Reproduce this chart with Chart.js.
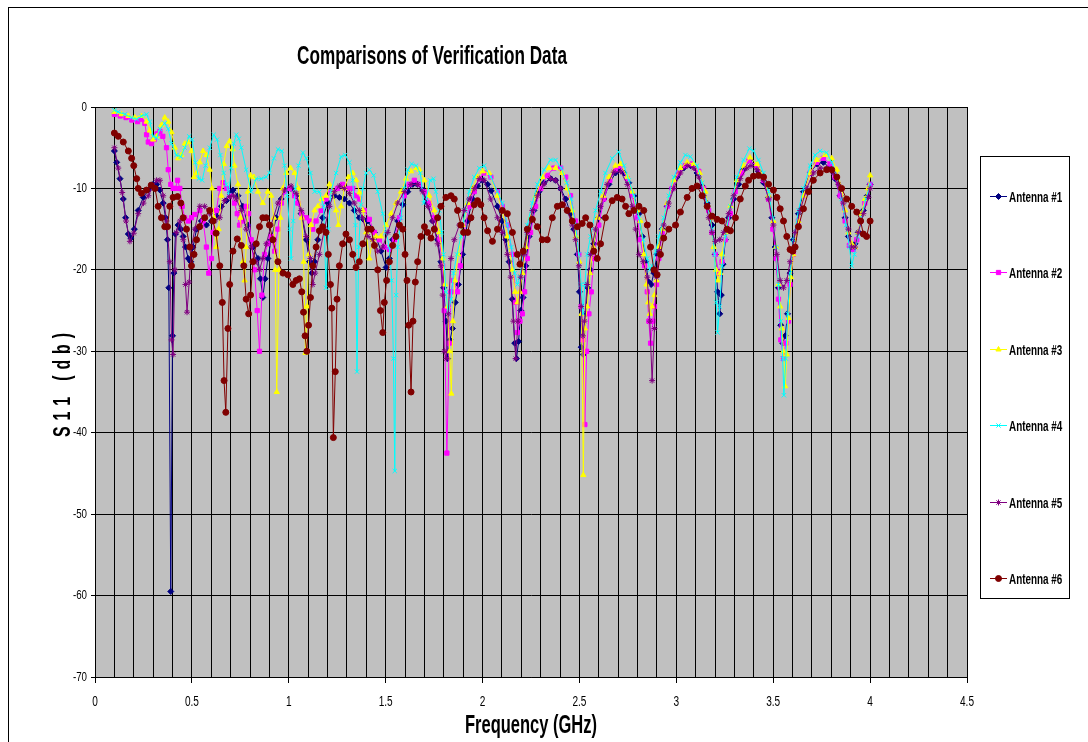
<!DOCTYPE html>
<html>
<head>
<meta charset="utf-8">
<title>Comparisons of Verification Data</title>
<script src="https://cdn.jsdelivr.net/npm/chart.js"></script>
<style>
    html, body { margin: 0; padding: 0; background: #fff; }
    #wrap { width: 1088px; height: 742px; }
</style>
</head>
<body>
<div id="wrap"><canvas id="chart" width="1088" height="742"></canvas></div>
<script>
// S11 readings [GHz, dB]
const ant1 = [
    [0.100, -5.4], [0.112, -6.8], [0.129, -8.8], [0.146, -11.3], [0.158, -13.6], [0.172, -15.6], [0.185, -16.1],
    [0.203, -15.0], [0.223, -12.7], [0.249, -11.1], [0.275, -10.2], [0.300, -9.5], [0.318, -9.5], [0.335, -10.2],
    [0.352, -11.8], [0.364, -13.6], [0.374, -16.3], [0.381, -22.2], [0.391, -59.5], [0.400, -28.1], [0.407, -20.4],
    [0.415, -15.6], [0.429, -14.5], [0.443, -15.0], [0.455, -15.9], [0.467, -17.2], [0.481, -18.6], [0.494, -19.0],
    [0.506, -17.2], [0.524, -15.0], [0.549, -14.0], [0.575, -14.5], [0.601, -14.0], [0.626, -13.4], [0.652, -12.2],
    [0.678, -11.5], [0.700, -10.5], [0.712, -10.2], [0.738, -10.9], [0.763, -12.2], [0.789, -14.5], [0.815, -17.2],
    [0.841, -18.6], [0.854, -21.1], [0.866, -23.4], [0.878, -21.1], [0.892, -18.6], [0.909, -16.3], [0.935, -13.6],
    [0.961, -11.3], [0.987, -10.2], [1.012, -10.0], [1.038, -10.9], [1.064, -13.1], [1.090, -16.3], [1.107, -19.0],
    [1.119, -20.4], [1.133, -19.0], [1.150, -16.3], [1.175, -13.6], [1.201, -11.8], [1.235, -10.9], [1.261, -11.1],
    [1.287, -11.3], [1.313, -11.8], [1.338, -12.7], [1.364, -13.6], [1.385, -13.8], [1.408, -14.0], [1.442, -15.4],
    [1.476, -17.7], [1.502, -19.7], [1.519, -18.6], [1.536, -16.3], [1.562, -14.0], [1.588, -12.0], [1.614, -10.4],
    [1.640, -9.5], [1.665, -9.5], [1.691, -10.2], [1.717, -11.8], [1.742, -14.0], [1.768, -16.3], [1.785, -19.0],
    [1.799, -22.2], [1.811, -26.3], [1.820, -30.9], [1.832, -28.6], [1.845, -27.2], [1.859, -24.0], [1.875, -21.8],
    [1.897, -18.1], [1.923, -14.0], [1.948, -11.3], [1.974, -9.7], [2.000, -9.0], [2.026, -9.5], [2.045, -10.3],
    [2.077, -12.2], [2.102, -14.0], [2.120, -16.3], [2.137, -19.0], [2.154, -23.6], [2.166, -29.0], [2.175, -30.9],
    [2.186, -28.8], [2.197, -25.0], [2.209, -23.4], [2.223, -19.5], [2.240, -15.9], [2.265, -12.7], [2.291, -10.4],
    [2.317, -9.3], [2.351, -8.8], [2.377, -9.0], [2.403, -10.0], [2.429, -11.3], [2.454, -13.1], [2.471, -15.0],
    [2.489, -18.1], [2.500, -22.7], [2.509, -29.5], [2.520, -30.4], [2.532, -25.4], [2.543, -22.2], [2.557, -20.0],
    [2.574, -16.8], [2.600, -13.6], [2.626, -11.3], [2.652, -9.5], [2.686, -8.1], [2.704, -7.5], [2.730, -8.1],
    [2.755, -9.3], [2.781, -10.9], [2.807, -13.1], [2.824, -15.9], [2.841, -19.0], [2.858, -21.5], [2.870, -21.8],
    [2.884, -20.4], [2.901, -18.1], [2.927, -15.0], [2.953, -12.2], [2.978, -10.0], [3.004, -8.6], [3.038, -7.5],
    [3.073, -7.2], [3.107, -8.1], [3.133, -9.7], [3.159, -11.8], [3.184, -14.5], [3.201, -18.1], [3.213, -22.7],
    [3.224, -25.4], [3.232, -23.1], [3.241, -19.3], [3.253, -16.3], [3.270, -13.6], [3.296, -11.3], [3.322, -9.5],
    [3.347, -7.7], [3.380, -6.5], [3.424, -7.9], [3.450, -9.3], [3.476, -11.1], [3.493, -13.6], [3.510, -17.2],
    [3.527, -22.2], [3.539, -26.8], [3.549, -29.0], [3.562, -28.1], [3.574, -25.4], [3.587, -20.4], [3.604, -16.3],
    [3.630, -13.1], [3.656, -10.4], [3.690, -8.1], [3.725, -7.0], [3.759, -6.8], [3.793, -7.5], [3.819, -8.8],
    [3.845, -10.9], [3.871, -13.6], [3.888, -15.9], [3.905, -17.2], [3.922, -16.8], [3.939, -15.4], [3.965, -12.7],
    [3.985, -10.9], [4.000, -9.5]
];

const ant2 = [
    [0.100, -0.9], [0.130, -1.1], [0.160, -1.3], [0.190, -1.6], [0.220, -1.8], [0.240, -1.5], [0.257, -2.0],
    [0.266, -3.4], [0.275, -4.3], [0.292, -4.5], [0.305, -4.0], [0.320, -3.3], [0.335, -3.0], [0.350, -3.6],
    [0.369, -5.0], [0.378, -7.7], [0.391, -9.5], [0.403, -10.0], [0.415, -10.0], [0.426, -9.0], [0.438, -10.0],
    [0.450, -12.2], [0.463, -13.6], [0.481, -14.0], [0.498, -13.6], [0.515, -13.2], [0.541, -12.7], [0.558, -14.0],
    [0.575, -17.2], [0.587, -20.4], [0.601, -18.6], [0.609, -15.4], [0.626, -12.7], [0.644, -10.0], [0.661, -9.3],
    [0.678, -10.0], [0.695, -10.9], [0.720, -11.8], [0.734, -13.1], [0.746, -14.5], [0.763, -14.0], [0.780, -12.2],
    [0.793, -13.1], [0.806, -16.3], [0.823, -20.0], [0.837, -25.0], [0.849, -30.0], [0.861, -23.1], [0.875, -18.1],
    [0.892, -16.8], [0.909, -15.9], [0.927, -17.7], [0.944, -15.0], [0.961, -11.8], [0.978, -10.4], [1.004, -10.0],
    [1.030, -10.9], [1.047, -11.8], [1.067, -13.1], [1.090, -13.6], [1.107, -14.0], [1.124, -15.0], [1.141, -14.0],
    [1.167, -12.7], [1.192, -11.3], [1.218, -10.4], [1.252, -10.0], [1.278, -9.5], [1.304, -10.0], [1.330, -10.0],
    [1.347, -10.9], [1.365, -11.3], [1.390, -12.7], [1.416, -13.8], [1.442, -15.4], [1.468, -16.3], [1.493, -17.2],
    [1.519, -17.5], [1.545, -16.3], [1.571, -13.6], [1.596, -10.9], [1.622, -9.5], [1.648, -9.0], [1.674, -9.5],
    [1.700, -10.4], [1.725, -11.8], [1.751, -13.6], [1.777, -16.3], [1.794, -19.5], [1.802, -25.0], [1.816, -42.5],
    [1.828, -29.0], [1.837, -22.7], [1.850, -21.3], [1.871, -22.7], [1.885, -19.5], [1.905, -15.4], [1.931, -12.2],
    [1.957, -10.4], [1.983, -8.8], [2.008, -8.1], [2.043, -8.6], [2.077, -10.4], [2.102, -12.2], [2.128, -14.5],
    [2.154, -18.1], [2.171, -24.0], [2.180, -27.7], [2.193, -26.3], [2.205, -25.4], [2.217, -22.7], [2.231, -18.6],
    [2.248, -15.4], [2.274, -12.2], [2.300, -10.0], [2.334, -8.4], [2.368, -7.5], [2.403, -7.5], [2.429, -8.6],
    [2.454, -10.9], [2.480, -14.0], [2.497, -18.1], [2.509, -24.5], [2.518, -28.6], [2.528, -39.0], [2.537, -30.0],
    [2.549, -25.4], [2.561, -22.7], [2.574, -18.6], [2.600, -14.5], [2.626, -11.3], [2.657, -9.0], [2.686, -7.7],
    [2.712, -7.3], [2.747, -8.8], [2.772, -10.9], [2.798, -13.6], [2.815, -16.3], [2.836, -19.5], [2.850, -22.7],
    [2.858, -26.3], [2.867, -29.0], [2.879, -26.3], [2.887, -24.5], [2.898, -21.8], [2.910, -18.6], [2.927, -15.4],
    [2.953, -12.2], [2.978, -10.0], [3.013, -8.1], [3.047, -7.2], [3.081, -7.0], [3.116, -7.9], [3.141, -10.0],
    [3.167, -12.7], [3.184, -15.4], [3.201, -18.1], [3.219, -20.4], [3.236, -19.0], [3.253, -16.3], [3.279, -13.1],
    [3.304, -10.4], [3.338, -8.1], [3.375, -6.6], [3.416, -7.2], [3.450, -9.0], [3.476, -11.3], [3.498, -15.0],
    [3.515, -18.6], [3.527, -23.6], [3.539, -28.6], [3.553, -30.9], [3.565, -29.0], [3.579, -26.3], [3.587, -21.8],
    [3.604, -18.1], [3.630, -14.0], [3.656, -10.9], [3.690, -8.1], [3.725, -6.8], [3.759, -6.3], [3.793, -7.0],
    [3.819, -8.6], [3.845, -10.9], [3.871, -14.0], [3.893, -17.0], [3.913, -17.5], [3.931, -16.3], [3.951, -14.0],
    [3.973, -11.8], [4.000, -9.5]
];

const ant3 = [
    [0.100, -0.6], [0.137, -0.9], [0.172, -1.1], [0.206, -1.3], [0.240, -1.1], [0.266, -1.8], [0.283, -2.9],
    [0.300, -4.0], [0.318, -3.6], [0.343, -2.2], [0.360, -1.3], [0.378, -1.8], [0.395, -3.1], [0.412, -5.0],
    [0.429, -6.3], [0.446, -5.9], [0.463, -4.5], [0.481, -4.3], [0.498, -5.4], [0.511, -8.6], [0.524, -8.1],
    [0.541, -6.8], [0.558, -5.4], [0.575, -5.9], [0.592, -7.7], [0.604, -10.0], [0.614, -13.6], [0.626, -17.2],
    [0.638, -15.0], [0.652, -10.9], [0.665, -7.0], [0.680, -4.8], [0.695, -4.2], [0.710, -5.2], [0.720, -7.2],
    [0.738, -9.5], [0.751, -13.6], [0.763, -19.0], [0.772, -21.3], [0.780, -17.2], [0.789, -10.4], [0.803, -8.4],
    [0.820, -8.6], [0.841, -10.4], [0.866, -11.8], [0.892, -10.4], [0.909, -10.9], [0.923, -13.6], [0.930, -20.0],
    [0.938, -35.0], [0.949, -20.0], [0.957, -13.6], [0.969, -10.0], [0.987, -8.1], [1.009, -7.5], [1.030, -8.1],
    [1.050, -10.0], [1.067, -13.6], [1.077, -19.0], [1.086, -30.2], [1.095, -24.5], [1.103, -18.1], [1.115, -14.5],
    [1.133, -12.7], [1.150, -12.2], [1.170, -11.3], [1.192, -10.9], [1.210, -9.5], [1.227, -10.4], [1.244, -12.7],
    [1.256, -14.5], [1.270, -12.2], [1.287, -10.0], [1.308, -8.6], [1.330, -8.1], [1.348, -9.0], [1.365, -10.5],
    [1.382, -12.7], [1.399, -15.4], [1.416, -18.6], [1.433, -16.3], [1.450, -15.9], [1.476, -15.9], [1.502, -14.5],
    [1.528, -13.1], [1.553, -11.8], [1.579, -10.4], [1.605, -8.8], [1.631, -7.9], [1.657, -7.5], [1.674, -7.7],
    [1.700, -9.0], [1.725, -10.9], [1.751, -12.7], [1.777, -15.4], [1.794, -18.6], [1.806, -21.8], [1.820, -24.5],
    [1.830, -30.0], [1.839, -35.2], [1.847, -26.3], [1.857, -21.3], [1.875, -18.1], [1.897, -14.5], [1.923, -11.8],
    [1.948, -10.0], [1.974, -8.6], [2.000, -7.9], [2.034, -8.1], [2.077, -10.9], [2.102, -12.7], [2.128, -15.9],
    [2.154, -20.0], [2.168, -22.7], [2.180, -24.0], [2.192, -22.7], [2.205, -20.4], [2.223, -17.2], [2.248, -13.6],
    [2.274, -10.9], [2.308, -8.6], [2.343, -7.5], [2.377, -7.5], [2.411, -8.1], [2.437, -10.0], [2.463, -12.7],
    [2.483, -15.9], [2.500, -19.0], [2.511, -25.4], [2.520, -45.2], [2.528, -27.2], [2.540, -24.5], [2.554, -20.4],
    [2.571, -17.2], [2.595, -13.6], [2.622, -10.9], [2.652, -8.6], [2.686, -7.2], [2.712, -7.0], [2.747, -8.6],
    [2.772, -10.4], [2.798, -12.7], [2.815, -14.0], [2.832, -18.1], [2.846, -21.8], [2.855, -24.0], [2.863, -25.4],
    [2.875, -24.5], [2.887, -23.1], [2.898, -21.3], [2.910, -17.2], [2.927, -15.0], [2.953, -11.8], [2.987, -9.0],
    [3.021, -7.5], [3.056, -6.8], [3.090, -7.0], [3.121, -8.1], [3.150, -10.4], [3.176, -13.6], [3.193, -17.2],
    [3.205, -20.0], [3.215, -21.3], [3.227, -20.4], [3.236, -18.1], [3.253, -15.4], [3.279, -12.2], [3.313, -9.0],
    [3.347, -7.2], [3.380, -6.2], [3.416, -7.0], [3.450, -8.6], [3.476, -10.9], [3.501, -14.0], [3.515, -17.2],
    [3.527, -21.8], [3.536, -24.5], [3.544, -27.2], [3.553, -30.0], [3.562, -34.3], [3.570, -30.4], [3.579, -25.9],
    [3.591, -20.9], [3.604, -18.1], [3.630, -14.0], [3.656, -10.9], [3.690, -8.1], [3.725, -6.5], [3.768, -5.9],
    [3.802, -6.3], [3.828, -7.7], [3.853, -10.0], [3.871, -12.7], [3.888, -15.4], [3.905, -16.8], [3.922, -17.2],
    [3.939, -15.4], [3.956, -13.1], [3.973, -11.3], [3.990, -10.0], [4.000, -8.4]
];

const ant4 = [
    [0.100, -0.4], [0.120, -0.6], [0.154, -0.9], [0.189, -1.3], [0.215, -1.5], [0.240, -1.1], [0.266, -0.9],
    [0.283, -1.8], [0.300, -3.6], [0.318, -3.8], [0.335, -2.7], [0.360, -2.0], [0.378, -2.7], [0.395, -4.5],
    [0.420, -5.9], [0.443, -6.1], [0.463, -5.0], [0.486, -3.6], [0.501, -4.0], [0.518, -6.8], [0.536, -8.8],
    [0.553, -9.0], [0.570, -7.2], [0.592, -5.0], [0.613, -3.4], [0.630, -4.0], [0.647, -5.9], [0.664, -8.1],
    [0.678, -9.5], [0.690, -10.8], [0.703, -7.5], [0.716, -4.5], [0.729, -3.4], [0.742, -3.9], [0.755, -5.0],
    [0.780, -7.7], [0.806, -10.4], [0.832, -8.8], [0.858, -8.8], [0.884, -8.6], [0.900, -8.1], [0.923, -6.3],
    [0.944, -5.2], [0.964, -5.4], [0.978, -7.2], [0.992, -10.9], [1.004, -15.0], [1.012, -18.6], [1.023, -14.0],
    [1.033, -10.0], [1.050, -7.2], [1.073, -5.6], [1.090, -6.3], [1.112, -8.1], [1.133, -10.4], [1.158, -10.4],
    [1.180, -12.2], [1.192, -22.2], [1.205, -15.0], [1.218, -10.4], [1.244, -8.1], [1.270, -6.1], [1.291, -5.9],
    [1.313, -6.8], [1.330, -9.0], [1.344, -14.5], [1.352, -32.5], [1.361, -17.2], [1.373, -12.0], [1.382, -10.0],
    [1.399, -8.1], [1.416, -7.7], [1.438, -8.4], [1.459, -10.4], [1.485, -13.1], [1.502, -15.4], [1.519, -17.2],
    [1.531, -21.3], [1.540, -30.9], [1.547, -44.7], [1.554, -23.1], [1.562, -17.2], [1.579, -13.6], [1.596, -10.0],
    [1.614, -7.7], [1.634, -7.0], [1.657, -7.2], [1.679, -8.1], [1.696, -11.8], [1.708, -11.3], [1.730, -9.0],
    [1.747, -8.8], [1.759, -10.4], [1.777, -12.7], [1.789, -15.4], [1.799, -18.1], [1.811, -22.7], [1.823, -25.4],
    [1.837, -23.6], [1.850, -20.4], [1.868, -18.1], [1.888, -15.9], [1.911, -12.7], [1.931, -10.4], [1.957, -8.6],
    [1.983, -7.5], [2.008, -7.2], [2.042, -8.6], [2.077, -10.4], [2.102, -11.8], [2.128, -14.5], [2.149, -17.2],
    [2.166, -20.4], [2.180, -21.8], [2.193, -20.9], [2.210, -18.1], [2.231, -14.5], [2.257, -11.8], [2.283, -9.5],
    [2.317, -7.7], [2.351, -6.5], [2.377, -6.5], [2.406, -7.5], [2.434, -9.3], [2.458, -11.3], [2.480, -14.5],
    [2.497, -18.1], [2.509, -21.8], [2.518, -25.4], [2.528, -21.8], [2.540, -18.1], [2.557, -15.9], [2.583, -12.7],
    [2.609, -10.4], [2.634, -8.1], [2.669, -6.3], [2.703, -5.5], [2.730, -7.2], [2.755, -9.0], [2.781, -10.9],
    [2.807, -13.6], [2.829, -16.3], [2.850, -18.6], [2.863, -20.0], [2.875, -19.5], [2.893, -17.7], [2.910, -15.9],
    [2.935, -13.6], [2.961, -10.9], [2.987, -8.6], [3.021, -6.8], [3.047, -5.9], [3.073, -6.1], [3.107, -7.2],
    [3.133, -9.3], [3.159, -11.8], [3.184, -15.0], [3.198, -18.1], [3.206, -24.0], [3.213, -27.7], [3.224, -24.5],
    [3.236, -19.5], [3.253, -15.9], [3.279, -12.2], [3.313, -8.6], [3.347, -6.5], [3.377, -5.1], [3.398, -5.4],
    [3.424, -6.5], [3.450, -8.1], [3.476, -10.4], [3.498, -13.6], [3.515, -17.2], [3.527, -21.8], [3.539, -26.3],
    [3.549, -30.9], [3.555, -35.4], [3.565, -30.9], [3.575, -25.4], [3.587, -20.4], [3.604, -16.3], [3.630, -12.7],
    [3.656, -10.0], [3.690, -7.2], [3.716, -5.9], [3.742, -5.4], [3.776, -5.6], [3.802, -6.8], [3.828, -8.6],
    [3.853, -11.3], [3.876, -14.5], [3.893, -17.2], [3.905, -19.5], [3.919, -18.1], [3.936, -15.9], [3.956, -13.6],
    [3.978, -11.3], [4.000, -9.5]
];

const ant5 = [
    [0.100, -5.0], [0.120, -7.5], [0.140, -10.5], [0.160, -14.0], [0.180, -16.5], [0.200, -15.5], [0.223, -13.1],
    [0.250, -11.8], [0.275, -10.9], [0.300, -9.7], [0.318, -9.0], [0.335, -9.0], [0.352, -10.9], [0.369, -14.0],
    [0.386, -19.0], [0.395, -28.6], [0.403, -30.4], [0.412, -20.0], [0.420, -15.4], [0.438, -14.0], [0.455, -16.3],
    [0.467, -21.8], [0.475, -25.2], [0.486, -21.5], [0.498, -17.2], [0.515, -15.0], [0.541, -12.2], [0.566, -12.2],
    [0.592, -13.1], [0.618, -14.0], [0.644, -13.6], [0.669, -11.5], [0.695, -11.0], [0.715, -10.9], [0.729, -11.3],
    [0.755, -12.7], [0.780, -15.0], [0.806, -17.2], [0.832, -19.0], [0.849, -20.0], [0.866, -18.6], [0.884, -16.8],
    [0.909, -14.5], [0.944, -11.8], [0.978, -10.2], [1.012, -9.7], [1.038, -10.6], [1.064, -12.7], [1.090, -15.9],
    [1.112, -18.6], [1.124, -21.8], [1.136, -20.4], [1.158, -18.1], [1.184, -15.0], [1.210, -12.2], [1.235, -10.4],
    [1.261, -9.7], [1.287, -10.0], [1.313, -10.6], [1.338, -11.8], [1.364, -12.7], [1.380, -13.6], [1.408, -15.9],
    [1.433, -16.3], [1.459, -17.7], [1.485, -17.2], [1.511, -15.4], [1.536, -13.6], [1.562, -11.8], [1.596, -10.4],
    [1.631, -9.5], [1.665, -9.5], [1.691, -10.4], [1.717, -12.2], [1.742, -14.0], [1.768, -16.8], [1.785, -19.5],
    [1.794, -23.1], [1.802, -30.0], [1.813, -30.9], [1.823, -25.4], [1.837, -18.6], [1.854, -16.3], [1.880, -14.5],
    [1.905, -12.7], [1.931, -11.3], [1.957, -10.0], [1.983, -8.8], [2.008, -9.0], [2.042, -11.3], [2.077, -13.6],
    [2.102, -15.4], [2.128, -18.1], [2.145, -20.9], [2.159, -26.3], [2.171, -30.9], [2.183, -26.3], [2.197, -20.9],
    [2.214, -18.1], [2.231, -15.4], [2.257, -12.7], [2.283, -10.9], [2.317, -9.5], [2.351, -8.8], [2.377, -9.0],
    [2.403, -10.0], [2.437, -12.7], [2.463, -14.5], [2.480, -16.3], [2.497, -19.5], [2.509, -24.5], [2.518, -28.1],
    [2.526, -26.3], [2.540, -21.8], [2.557, -18.1], [2.583, -15.0], [2.609, -12.2], [2.643, -9.5], [2.677, -8.0],
    [2.712, -7.9], [2.747, -9.5], [2.772, -12.2], [2.790, -15.0], [2.807, -18.1], [2.829, -19.0], [2.850, -20.9],
    [2.863, -26.3], [2.875, -33.6], [2.887, -27.2], [2.898, -20.9], [2.910, -17.7], [2.935, -14.5], [2.961, -11.8],
    [2.987, -10.0], [3.021, -8.1], [3.056, -7.2], [3.090, -7.5], [3.116, -8.6], [3.141, -10.9], [3.167, -13.6],
    [3.184, -15.4], [3.201, -16.5], [3.224, -16.3], [3.244, -15.4], [3.270, -13.1], [3.296, -10.9], [3.330, -8.8],
    [3.364, -7.5], [3.385, -7.2], [3.416, -7.7], [3.450, -9.0], [3.476, -11.3], [3.501, -14.5], [3.519, -18.1],
    [3.536, -21.3], [3.553, -22.2], [3.570, -21.3], [3.587, -19.0], [3.613, -15.4], [3.639, -12.7], [3.673, -10.0],
    [3.707, -8.1], [3.742, -7.5], [3.776, -7.5], [3.810, -8.1], [3.836, -9.5], [3.862, -11.8], [3.888, -15.0],
    [3.905, -17.2], [3.922, -17.2], [3.939, -15.4], [3.965, -13.1], [3.991, -11.1], [4.000, -10.0]
];

const ant6 = [
    [0.100, -3.2], [0.120, -3.6], [0.146, -4.3], [0.172, -5.4], [0.189, -6.3], [0.200, -7.2], [0.215, -8.8],
    [0.223, -10.0], [0.240, -10.6], [0.266, -10.2], [0.290, -9.6], [0.310, -10.0], [0.326, -12.2], [0.343, -13.6],
    [0.360, -14.7], [0.374, -14.7], [0.386, -12.2], [0.403, -11.1], [0.426, -11.0], [0.443, -11.8], [0.455, -13.6],
    [0.472, -15.0], [0.489, -17.2], [0.498, -19.5], [0.511, -18.1], [0.524, -16.3], [0.540, -14.7], [0.566, -13.6],
    [0.592, -12.7], [0.609, -14.0], [0.625, -15.5], [0.644, -19.5], [0.657, -24.0], [0.666, -33.6], [0.675, -37.5],
    [0.686, -27.2], [0.695, -21.8], [0.712, -17.7], [0.734, -16.2], [0.755, -17.0], [0.768, -19.5], [0.780, -23.6],
    [0.793, -25.4], [0.803, -23.1], [0.815, -19.0], [0.832, -16.8], [0.849, -14.7], [0.866, -13.6], [0.884, -13.6],
    [0.900, -14.5], [0.918, -16.3], [0.944, -19.0], [0.970, -20.4], [0.995, -20.6], [1.021, -21.8], [1.038, -21.3],
    [1.055, -21.1], [1.067, -22.7], [1.076, -25.2], [1.084, -28.1], [1.093, -30.0], [1.102, -26.8], [1.112, -23.4],
    [1.124, -19.5], [1.141, -17.2], [1.158, -15.2], [1.175, -14.7], [1.192, -15.4], [1.204, -18.1], [1.215, -21.8],
    [1.222, -24.7], [1.230, -40.6], [1.240, -32.5], [1.249, -23.6], [1.261, -19.5], [1.278, -16.8], [1.295, -15.6],
    [1.313, -16.3], [1.330, -18.1], [1.347, -19.7], [1.364, -19.0], [1.382, -16.8], [1.408, -15.0], [1.425, -15.0],
    [1.442, -17.0], [1.459, -20.0], [1.473, -25.0], [1.485, -27.7], [1.493, -24.0], [1.505, -21.3], [1.519, -19.0],
    [1.536, -17.0], [1.553, -15.9], [1.571, -14.5], [1.588, -15.0], [1.600, -18.1], [1.610, -21.3], [1.619, -26.8],
    [1.631, -35.0], [1.641, -26.3], [1.653, -21.5], [1.665, -19.0], [1.682, -15.9], [1.700, -14.7], [1.716, -15.4],
    [1.734, -16.1], [1.751, -15.0], [1.768, -13.6], [1.785, -12.2], [1.811, -11.1], [1.837, -10.9], [1.854, -11.3],
    [1.871, -12.7], [1.888, -14.5], [1.902, -15.4], [1.923, -15.4], [1.940, -13.6], [1.957, -12.0], [1.974, -11.5],
    [1.991, -12.0], [2.008, -13.6], [2.026, -15.2], [2.051, -16.5], [2.077, -15.0], [2.102, -12.7], [2.128, -13.1],
    [2.154, -15.4], [2.180, -18.1], [2.193, -19.3], [2.210, -17.7], [2.231, -15.0], [2.257, -13.8], [2.283, -14.7],
    [2.308, -16.3], [2.334, -16.3], [2.360, -13.6], [2.386, -12.2], [2.411, -12.0], [2.437, -12.7], [2.463, -14.0],
    [2.489, -14.7], [2.514, -14.3], [2.532, -13.6], [2.554, -14.5], [2.574, -17.7], [2.592, -18.6], [2.609, -16.8],
    [2.634, -13.6], [2.669, -11.5], [2.695, -11.1], [2.720, -11.3], [2.738, -12.2], [2.755, -13.1], [2.781, -12.7],
    [2.807, -12.2], [2.832, -12.7], [2.850, -14.5], [2.867, -17.2], [2.884, -20.0], [2.901, -20.6], [2.918, -18.1],
    [2.935, -16.1], [2.961, -15.0], [2.996, -14.5], [3.021, -12.9], [3.056, -11.1], [3.081, -10.0], [3.107, -9.7],
    [3.133, -10.9], [3.159, -12.2], [3.184, -13.4], [3.210, -13.8], [3.236, -14.0], [3.262, -15.0], [3.279, -15.2],
    [3.305, -13.6], [3.330, -11.3], [3.356, -9.7], [3.373, -9.0], [3.398, -8.5], [3.424, -8.4], [3.450, -8.6],
    [3.476, -9.5], [3.501, -10.2], [3.519, -11.1], [3.536, -12.5], [3.553, -14.0], [3.570, -15.9], [3.587, -17.5],
    [3.601, -17.7], [3.613, -17.2], [3.630, -14.7], [3.656, -12.5], [3.682, -10.4], [3.707, -9.0], [3.742, -8.1],
    [3.776, -7.7], [3.802, -7.7], [3.828, -8.6], [3.853, -10.0], [3.879, -11.3], [3.905, -12.2], [3.931, -12.9],
    [3.951, -14.0], [3.965, -15.6], [3.982, -15.9], [4.000, -14.0]
];

const seriesNames = ['Antenna #1', 'Antenna #2', 'Antenna #3', 'Antenna #4', 'Antenna #5', 'Antenna #6'];
const xTickLabels = ['0', '0.5', '1', '1.5', '2', '2.5', '3', '3.5', '4', '4.5'];
const yTickLabels = ['0', '-10', '-20', '-30', '-40', '-50', '-60', '-70'];

const allSeries = [ant1, ant2, ant3, ant4, ant5, ant6];
const seriesColors = ['#000080', '#FF00FF', '#FFFF00', '#00FFFF', '#800080', '#800000'];
const seriesMarkers = ['rectRot', 'rect', 'triangle', 'crossRot', 'star', 'circle'];

const FONT = '"Liberation Sans", Arial, sans-serif';
const SQUEEZE = 0.66;   // the Excel text is very condensed

function drawText(ctx, text, x, y, size, bold, align, baseline, squeeze) {
    ctx.save();
    ctx.translate(x, y);
    ctx.scale(squeeze || SQUEEZE, 1);
    ctx.font = (bold ? 'bold ' : '') + size + 'px ' + FONT;
    ctx.textAlign = align;
    ctx.textBaseline = baseline || 'alphabetic';
    ctx.fillStyle = '#000';
    ctx.fillText(text, 0, 0);
    ctx.restore();
}

// y title is written with spread out letters, bottom to top
function drawSpacedVertical(ctx, text, x, yCenter, size, length) {
    ctx.save();
    ctx.translate(x, yCenter);
    ctx.rotate(-Math.PI / 2);
    ctx.font = 'bold ' + size + 'px ' + FONT;
    ctx.fillStyle = '#000';
    ctx.textBaseline = 'alphabetic';
    ctx.textAlign = 'left';
    const chars = text.split('');
    const widths = chars.map(c => ctx.measureText(c).width * SQUEEZE);
    const total = widths.reduce((a, b) => a + b, 0);
    const gap = (length - total) / (chars.length - 1);
    let pos = -length / 2;
    for (let i = 0; i < chars.length; i++) {
        ctx.save();
        ctx.translate(pos, 0);
        ctx.scale(SQUEEZE, 1);
        ctx.fillText(chars[i], 0, 0);
        ctx.restore();
        pos += widths[i] + gap;
    }
    ctx.restore();
}

function isHalf(v) {
    return Math.abs(v * 2 - Math.round(v * 2)) < 1e-6;
}

const excelLook = {
    id: 'excelLook',
    beforeDraw(chart) {
        const {ctx, chartArea} = chart;
        ctx.save();
        ctx.fillStyle = '#fff';
        ctx.fillRect(0, 0, chart.width, chart.height);
        ctx.strokeStyle = '#000';
        ctx.lineWidth = 1;
        ctx.strokeRect(8.5, 7.5, 1200, 800);
        ctx.fillStyle = '#C0C0C0';
        ctx.fillRect(chartArea.left, chartArea.top, chartArea.right - chartArea.left, chartArea.bottom - chartArea.top);
        ctx.restore();
    },
    afterDraw(chart) {
        const ctx = chart.ctx;
        const xs = chart.scales.x;
        const ys = chart.scales.y;

        // titles
        drawText(ctx, 'Comparisons of Verification Data', 432, 64, 26, true, 'center');
        drawText(ctx, 'Frequency (GHz)', (chart.chartArea.left + chart.chartArea.right) / 2, 733, 25, true, 'center');
        drawSpacedVertical(ctx, 'S11 (db)', 70, 385, 24, 104);

        // tick labels
        for (const t of xTickLabels) {
            drawText(ctx, t, xs.getPixelForValue(parseFloat(t)), 702, 14, false, 'center', 'middle', 0.72);
        }
        for (const t of yTickLabels) {
            drawText(ctx, t, 87, ys.getPixelForValue(parseFloat(t)), 13, false, 'right', 'middle', 0.75);
        }

        // legend box
        ctx.save();
        ctx.fillStyle = '#fff';
        ctx.fillRect(980, 156, 89, 442);
        ctx.strokeStyle = '#000';
        ctx.lineWidth = 1;
        ctx.strokeRect(980.5, 156.5, 89, 442);
        for (let i = 0; i < seriesNames.length; i++) {
            const y = Math.round(196 + i * 76.4) + 0.5;
            ctx.strokeStyle = seriesColors[i];
            ctx.fillStyle = seriesColors[i];
            ctx.lineWidth = 1;
            ctx.beginPath();
            ctx.moveTo(990, y);
            ctx.lineTo(1007, y);
            ctx.stroke();
            if (Chart.helpers && Chart.helpers.drawPoint) {
                Chart.helpers.drawPoint(ctx, {pointStyle: seriesMarkers[i], radius: 3, rotation: 0, borderWidth: 1}, 998.5, y);
            }
            drawText(ctx, seriesNames[i], 1009, y + 5, 15, true, 'left');
        }
        ctx.restore();
    }
};

new Chart(document.getElementById('chart'), {
    type: 'line',
    data: {
        datasets: allSeries.map((d, i) => ({
            label: seriesNames[i],
            data: d,
            borderColor: seriesColors[i],
            backgroundColor: seriesColors[i],
            pointStyle: seriesMarkers[i],
            pointRadius: 3,
            pointBorderWidth: 1,
            borderWidth: 1,
            tension: 0,
            order: 5 - i
        }))
    },
    options: {
        responsive: false,
        animation: false,
        devicePixelRatio: 1,
        layout: { padding: { top: 107, right: 121, left: 0, bottom: 0 } },
        plugins: {
            legend: { display: false },
            tooltip: { enabled: false },
            title: { display: false }
        },
        scales: {
            x: {
                type: 'linear',
                min: 0,
                max: 4.5,
                ticks: { stepSize: 0.1, display: false, autoSkip: false },
                grid: {
                    color: '#000',
                    lineWidth: 1,
                    tickLength: 6,
                    tickColor: c => (c.tick && isHalf(c.tick.value)) ? '#000' : 'rgba(0,0,0,0)'
                },
                border: { color: '#000', width: 1 },
                afterFit: s => { s.height = 65; }
            },
            y: {
                type: 'linear',
                min: -70,
                max: 0,
                ticks: { stepSize: 10, display: false },
                grid: { color: '#000', lineWidth: 1, tickLength: 4, tickColor: '#000' },
                border: { color: '#000', width: 1 },
                afterFit: s => { s.width = 95; }
            }
        }
    },
    plugins: [excelLook]
});
</script>
</body>
</html>
